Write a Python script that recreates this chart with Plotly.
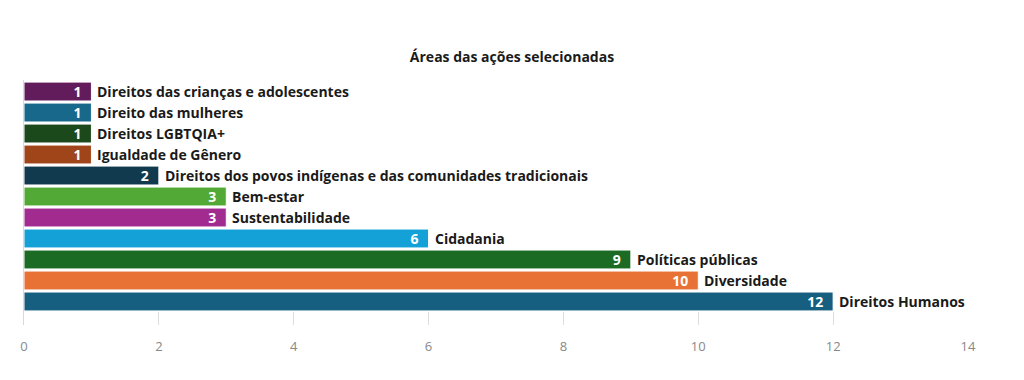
import plotly.graph_objects as go

categories = [
    "Direitos das crianças e adolescentes",
    "Direito das mulheres",
    "Direitos LGBTQIA+",
    "Igualdade de Gênero",
    "Direitos dos povos indígenas e das comunidades tradicionais",
    "Bem-estar",
    "Sustentabilidade",
    "Cidadania",
    "Políticas públicas",
    "Diversidade",
    "Direitos Humanos",
]
values = [1, 1, 1, 1, 2, 3, 3, 6, 9, 10, 12]
colors = [
    "#621c5b", "#17688a", "#1b491c", "#a0441a", "#123a4f", "#52a935",
    "#a22b90", "#14a1d8", "#1c6b24", "#e87235", "#175f81",
]
title_text = "Áreas das ações selecionadas"
x_ticks = [0, 2, 4, 6, 8, 10, 12, 14]

FONT = "Open Sans"

fig = go.Figure()
fig.add_trace(go.Bar(
    x=values,
    y=categories,
    orientation="h",
    marker=dict(color=colors, line=dict(color="white", width=1)),
    text=[str(v) + "\u2002" for v in values],
    textposition="inside",
    insidetextanchor="end",
    textangle=0,
    constraintext="none",
    textfont=dict(family=FONT, size=14, color="white", weight=700),
    hoverinfo="skip",
))

for cat, v in zip(categories, values):
    fig.add_annotation(
        x=v, y=cat, xref="x", yref="y",
        text=cat, showarrow=False,
        xanchor="left", yanchor="middle", xshift=4,
        font=dict(family=FONT, size=14, color="#1a1a1a", weight=700),
    )

fig.update_layout(
    width=1024, height=380,
    margin=dict(l=14, r=64, t=72, b=63),
    paper_bgcolor="white", plot_bgcolor="white",
    showlegend=False,
    bargap=0.1,
    title=dict(
        text=title_text, x=(512 - 8) / 1024, xanchor="center", y=1 - 49 / 380, yanchor="middle",
        font=dict(family=FONT, size=14, color="#1a1a1a", weight=700),
    ),
    xaxis=dict(
        range=[0, 14], tickvals=x_ticks, ticktext=[str(t) for t in x_ticks],
        showgrid=False, zeroline=False, showline=False,
        ticks="inside", ticklen=13, tickcolor="#dddddd", tickwidth=1,
        ticklabelstandoff=12,
        tickfont=dict(family=FONT, size=13, color="#888888"),
    ),
    yaxis=dict(
        categoryorder="array", categoryarray=categories,
        range=[11.12, -0.55],
        showticklabels=False, showgrid=False, zeroline=False,
        showline=True, linecolor="#d9d9d9", linewidth=1, ticks="",
    ),
)

fig.write_html("out.html")
